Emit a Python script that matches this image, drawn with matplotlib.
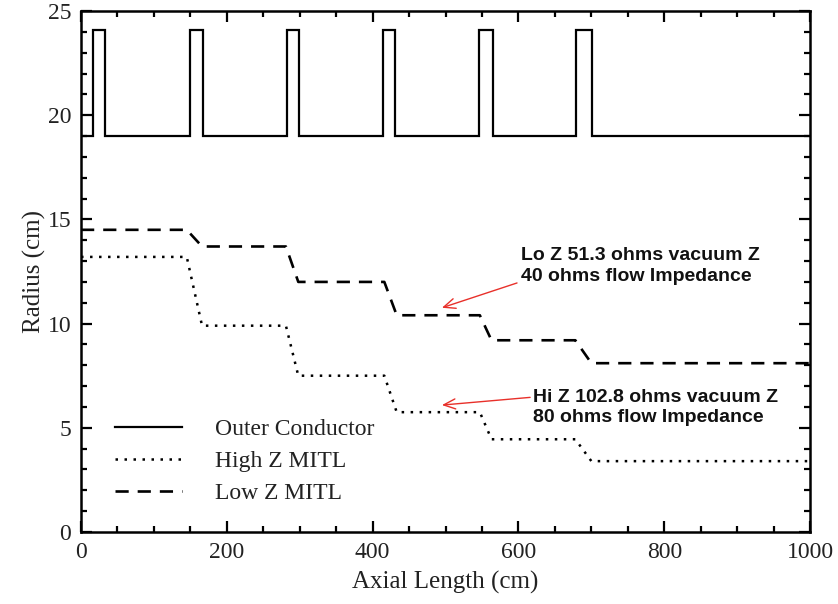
import numpy as np
import matplotlib
matplotlib.use("Agg")
import matplotlib.pyplot as plt
from matplotlib.ticker import MultipleLocator

# Outer conductor: flat radius with short raised sections (cm)
outer_base = 19.0
outer_peak = 24.1
pulse_start = [16, 149, 282, 414, 546, 679]
pulse_end = [33, 167, 299, 431, 565, 701]

# MITL step transitions along the axis (cm)
drop_start = [145, 281, 416, 547, 678]
drop_end = [166, 298, 433, 563, 700]

# Radius of each MITL section (cm)
low_z_levels = [14.5, 13.7, 12.0, 10.4, 9.2, 8.1]
high_z_levels = [13.2, 9.9, 7.5, 5.75, 4.45, 3.4]

x_max = 1000

series_labels = ["Outer Conductor", "High Z MITL", "Low Z MITL"]
lo_note = "Lo Z 51.3 ohms vacuum Z\n40 ohms flow Impedance"
hi_note = "Hi Z 102.8 ohms vacuum Z\n80 ohms flow Impedance"


def outer_profile():
    xs, ys = [0], [outer_base]
    for s, e in zip(pulse_start, pulse_end):
        xs += [s, s, e, e]
        ys += [outer_base, outer_peak, outer_peak, outer_base]
    xs.append(x_max)
    ys.append(outer_base)
    return np.array(xs), np.array(ys)


def mitl_profile(levels):
    xs, ys = [0], [levels[0]]
    for i, (s, e) in enumerate(zip(drop_start, drop_end)):
        xs += [s, e]
        ys += [levels[i], levels[i + 1]]
    xs.append(x_max)
    ys.append(levels[-1])
    return np.array(xs), np.array(ys)


serif = ["Liberation Serif", "DejaVu Serif"]
plt.rcParams["font.family"] = serif

fig = plt.figure(figsize=(8.38, 6.04), dpi=100)
ax = fig.add_axes([0.0967, 0.1192, 0.870, 0.8626])

xo, yo = outer_profile()
xh, yh = mitl_profile(high_z_levels)
xl, yl = mitl_profile(low_z_levels)

ax.plot(xo, yo, color="black", lw=1.6, solid_joinstyle="miter",
        label=series_labels[0])
ax.plot(xh, yh, color="black", lw=1.8, linestyle=(0, (1, 2.6)),
        label=series_labels[1])
ax.plot(xl, yl, color="black", lw=1.9, linestyle=(0, (5.0, 3.4)),
        label=series_labels[2])

ax.set_xlim(0, x_max)
ax.set_ylim(0, 25)

ax.xaxis.set_major_locator(MultipleLocator(200))
ax.xaxis.set_minor_locator(MultipleLocator(50))
ax.yaxis.set_major_locator(MultipleLocator(5))
ax.yaxis.set_minor_locator(MultipleLocator(1))
ax.tick_params(which="both", direction="in", top=True, right=True,
               width=1.6, colors="black")
ax.tick_params(which="major", length=8, labelsize=17, pad=7)
ax.tick_params(which="minor", length=4.5)
for sp in ax.spines.values():
    sp.set_linewidth(1.8)

ax.set_xlabel("Axial Length (cm)", fontsize=18, labelpad=6, color="#222222")
ax.set_ylabel("Radius (cm)", fontsize=18, labelpad=1, color="#222222")
for lab in ax.get_xticklabels() + ax.get_yticklabels():
    lab.set_color("#222222")

leg = ax.legend(loc="upper left", bbox_to_anchor=(0.046, 0.218),
                frameon=False, fontsize=17, handlelength=2.85,
                handletextpad=1.4, labelspacing=0.44, borderpad=0,
                borderaxespad=0)
for t in leg.get_texts():
    t.set_color("#222222")

arrow_kw = dict(arrowstyle="->,head_length=0.7,head_width=0.3",
                color="#e8302a", lw=1.0, mutation_scale=12,
                shrinkA=0, shrinkB=0)
ax.annotate("", xy=(495, 10.76), xytext=(598, 11.95), arrowprops=arrow_kw)
ax.annotate("", xy=(495, 6.09), xytext=(616, 6.46), arrowprops=arrow_kw)

note_font = dict(family=["Liberation Sans", "DejaVu Sans"], weight="bold",
                 fontsize=14, color="#111111", ha="left", va="center",
                 linespacing=1.25)
ax.text(604, 12.76, lo_note, **note_font)
ax.text(620, 5.96, hi_note, **note_font)

fig.savefig("out.png", dpi=100)
